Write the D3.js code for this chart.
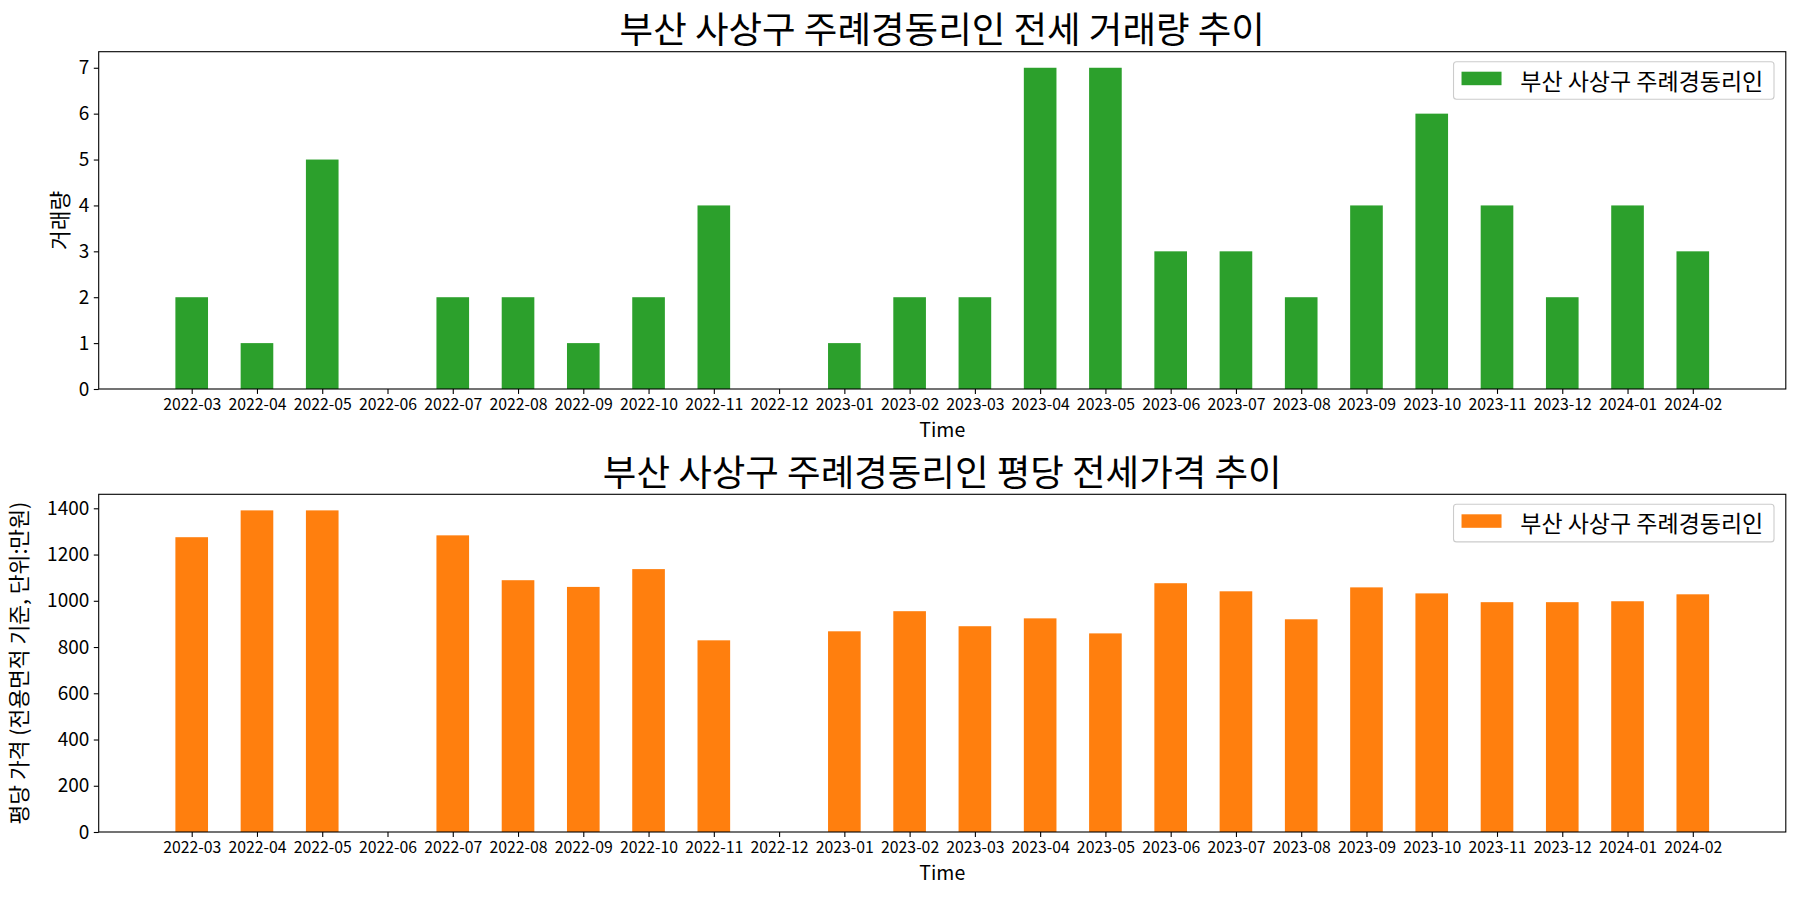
<!DOCTYPE html>
<html>
<head>
<meta charset="utf-8">
<script src="https://cdn.jsdelivr.net/npm/d3@7"></script>
<style>
  html, body { margin: 0; padding: 0; background: #fff; }
  svg { display: block; font-family: "Noto Sans CJK KR", "Noto Sans", sans-serif; }
</style>
</head>
<body>
<svg id="chart" width="1800" height="900"></svg>
<script>
// ---- data ----
const months = ["2022-03","2022-04","2022-05","2022-06","2022-07","2022-08","2022-09","2022-10","2022-11","2022-12",
  "2023-01","2023-02","2023-03","2023-04","2023-05","2023-06","2023-07","2023-08","2023-09","2023-10","2023-11","2023-12",
  "2024-01","2024-02"];
const volume = [2,1,5,0,2,2,1,2,4,0,1,2,2,7,7,3,3,2,4,6,4,2,4,3];
const price = [1275,1391,1391,null,1283,1089,1060,1137,829,null,868,955,890,924,859,1076,1041,920,1058,1032,994,994,998,1028];
const volumeTicks = [0,1,2,3,4,5,6,7];
const priceTicks = [0,200,400,600,800,1000,1200,1400];
const seriesName = "부산 사상구 주례경동리인";
const titles = ["부산 사상구 주례경동리인 전세 거래량 추이", "부산 사상구 주례경동리인 평당 전세가격 추이"];
const yLabels = ["거래량", "평당 가격 (전용면적 기준, 단위:만원)"];
const xLabel = "Time";
const colors = ["#2ca02c", "#ff7f0e"];

const svg = d3.select("#chart");
const left = 98.7, right = 1785.8;
const panels = [
  {top: 51.7, bottom: 389, values: volume, ticks: volumeTicks, color: colors[0], title: titles[0], ylabel: yLabels[0], ylabelX: 58},
  {top: 494.3, bottom: 832, values: price, ticks: priceTicks, color: colors[1], title: titles[1], ylabel: yLabels[1], ylabelX: 17}
];

const n = months.length;
const barW = 0.5;
const xMin = -barW/2, xMax = n - 1 + barW/2, xPad = (xMax - xMin) * 0.05;

panels.forEach(p => {
  const g = svg.append("g");
  const x = d3.scaleLinear().domain([xMin - xPad, xMax + xPad]).range([left, right]);
  const maxV = d3.max(p.values.filter(v => v != null));
  const y = d3.scaleLinear().domain([0, maxV * 1.05]).range([p.bottom, p.top]);

  // bars
  g.append("g").selectAll("rect")
    .data(p.values.map((v, i) => ({v, i})).filter(d => d.v != null && d.v > 0))
    .join("rect")
    .attr("x", d => x(d.i - barW/2))
    .attr("width", d => x(d.i + barW/2) - x(d.i - barW/2))
    .attr("y", d => y(d.v))
    .attr("height", d => y(0) - y(d.v))
    .attr("fill", p.color);

  // x axis
  const xAxis = d3.axisBottom(x)
    .tickValues(d3.range(n))
    .tickFormat(i => months[i])
    .tickSize(4.9).tickSizeOuter(0).tickPadding(4.5);
  const gx = g.append("g").attr("transform", `translate(0,${p.bottom})`).call(xAxis);
  gx.select(".domain").remove();
  gx.selectAll("line").attr("stroke", "#000").attr("stroke-width", 1.1);
  gx.selectAll("text").attr("font-size", "15.8px").attr("fill", "#000")
    .attr("font-family", "'Noto Sans CJK KR', sans-serif");

  // y axis
  const yAxis = d3.axisLeft(y).tickValues(p.ticks).tickFormat(d3.format("d"))
    .tickSize(4.9).tickSizeOuter(0).tickPadding(4.5);
  const gy = g.append("g").attr("transform", `translate(${left},0)`).call(yAxis);
  gy.select(".domain").remove();
  gy.selectAll("line").attr("stroke", "#000").attr("stroke-width", 1.1);
  gy.selectAll("text").attr("font-size", "19px").attr("fill", "#000")
    .attr("font-family", "'Noto Sans CJK KR', sans-serif");

  // frame
  g.append("rect").attr("x", left).attr("y", p.top)
    .attr("width", right - left).attr("height", p.bottom - p.top)
    .attr("fill", "none").attr("stroke", "#000").attr("stroke-width", 1.1);

  // title
  g.append("text").attr("x", (left + right) / 2).attr("y", p.top - 8.5)
    .attr("text-anchor", "middle").attr("font-size", "36.5px").attr("fill", "#000")
    .text(p.title);

  // x label
  g.append("text").attr("x", (left + right) / 2).attr("y", p.bottom + 47.5)
    .attr("text-anchor", "middle").attr("font-size", "19.5px").attr("fill", "#000")
    .text(xLabel);

  // y label
  g.append("text")
    .attr("transform", `translate(${p.ylabelX},${(p.top + p.bottom) / 2}) rotate(-90)`)
    .attr("text-anchor", "middle").attr("dominant-baseline", "central")
    .attr("font-size", "21.5px").attr("fill", "#000")
    .text(p.ylabel);

  // legend
  const lg = g.append("g");
  const lt = lg.append("text").attr("font-size", "23px").attr("fill", "#000")
    .attr("dominant-baseline", "central").text(seriesName);
  const tw = lt.node().getComputedTextLength();
  const boxRight = right - 11.8, boxTop = p.top + 10;
  const boxH = 37.6;
  const boxW = 8 + 40 + 18.7 + tw + 10.7;
  const boxLeft = boxRight - boxW;
  lg.insert("rect", "text").attr("x", boxLeft).attr("y", boxTop).attr("width", boxW).attr("height", boxH)
    .attr("rx", 3).attr("fill", "#fff").attr("fill-opacity", 0.8)
    .attr("stroke", "#cccccc").attr("stroke-width", 1.1);
  lg.append("rect").attr("x", boxLeft + 8).attr("y", boxTop + 10).attr("width", 40).attr("height", 13.5)
    .attr("fill", p.color);
  lt.attr("x", boxLeft + 8 + 40 + 18.7).attr("y", boxTop + boxH / 2 - 1);
});
</script>
</body>
</html>
